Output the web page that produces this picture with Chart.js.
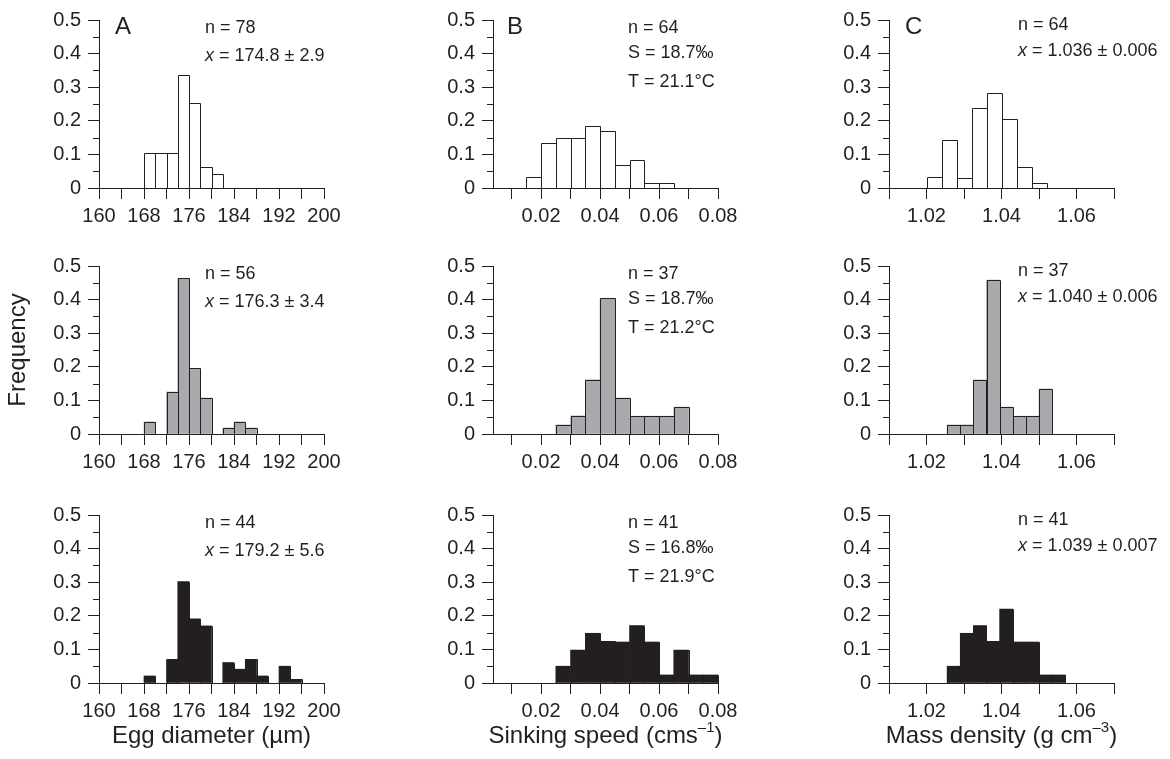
<!DOCTYPE html>
<html lang="en">
<head>
<meta charset="UTF-8">
<title>Egg diameter, sinking speed and mass density</title>
<script src="https://cdn.jsdelivr.net/npm/chart.js"></script>
<style>
  body { margin: 0; background: #fff; }
  #wrap { position: relative; width: 1170px; height: 759px; overflow: hidden; }
  #wrap canvas { position: absolute; }
</style>
</head>
<body>
<div id="wrap"></div>
<script>
// histogram bins: lower edge of each bar and its frequency
const diamBins1 = [168, 170, 172, 174, 176, 178, 180];
const diamFreq1 = [0.103, 0.103, 0.103, 0.336, 0.252, 0.063, 0.041];
const diamBins2 = [168, 172, 174, 176, 178, 182, 184, 186];
const diamFreq2 = [0.036, 0.125, 0.463, 0.195, 0.107, 0.018, 0.036, 0.018];
const diamBins3 = [168, 172, 174, 176, 178, 182, 184, 186, 188, 192, 194];
const diamFreq3 = [0.021, 0.070, 0.302, 0.191, 0.170, 0.061, 0.041, 0.070, 0.021, 0.050, 0.011];

const sinkBins1 = [0.015, 0.02, 0.025, 0.03, 0.035, 0.04, 0.045, 0.05, 0.055, 0.06];
const sinkFreq1 = [0.034, 0.134, 0.150, 0.150, 0.185, 0.169, 0.067, 0.084, 0.016, 0.016];
const sinkBins2 = [0.025, 0.03, 0.035, 0.04, 0.045, 0.05, 0.055, 0.06, 0.065];
const sinkFreq2 = [0.027, 0.054, 0.161, 0.404, 0.107, 0.053, 0.053, 0.053, 0.080];
const sinkBins3 = [0.025, 0.03, 0.035, 0.04, 0.045, 0.05, 0.055, 0.06, 0.065, 0.07, 0.075];
const sinkFreq3 = [0.050, 0.098, 0.148, 0.124, 0.122, 0.171, 0.122, 0.024, 0.098, 0.024, 0.024];

const densBins1 = [1.020, 1.024, 1.028, 1.032, 1.036, 1.040, 1.044, 1.048];
const densFreq1 = [0.032, 0.142, 0.031, 0.237, 0.284, 0.204, 0.063, 0.015];
const densBins2 = [1.0255, 1.029, 1.0325, 1.036, 1.0395, 1.043, 1.0465, 1.05];
const densFreq2 = [0.027, 0.027, 0.161, 0.458, 0.080, 0.053, 0.053, 0.134];
const densBins3 = [1.0255, 1.029, 1.0325, 1.036, 1.0395, 1.043, 1.0465, 1.05, 1.0535];
const densFreq3 = [0.050, 0.148, 0.171, 0.124, 0.220, 0.122, 0.122, 0.024, 0.024];

// tick labels
const freqTicks = ['0', '0.1', '0.2', '0.3', '0.4', '0.5'];
const freqMinor = [0.05, 0.15, 0.25, 0.35, 0.45];
const diamTicks = ['160', '168', '176', '184', '192', '200'];
const sinkTicks = ['0.02', '0.04', '0.06', '0.08'];
const densTicks = ['1.02', '1.04', '1.06'];

// panel texts
const panelLetters = ['A', 'B', 'C'];
const notesDiam = [['n = 78', 'x = 174.8 ± 2.9'], ['n = 56', 'x = 176.3 ± 3.4'], ['n = 44', 'x = 179.2 ± 5.6']];
const notesSink = [['n = 64', 'S = 18.7‰', 'T = 21.1°C'], ['n = 37', 'S = 18.7‰', 'T = 21.2°C'], ['n = 41', 'S = 16.8‰', 'T = 21.9°C']];
const notesDens = [['n = 64', 'x = 1.036 ± 0.006'], ['n = 37', 'x = 1.040 ± 0.006'], ['n = 41', 'x = 1.039 ± 0.007']];
const axisTitles = ['Egg diameter (µm)', 'Sinking speed (cms^{–1})', 'Mass density (g cm^{–3})'];
const yTitle = 'Frequency';

const ink = '#231f20';
const fontFamily = "'Liberation Sans', Arial, Helvetica, sans-serif";
const rowFills = ['#ffffff', '#a7a9ac', '#231f20'];

// page layout of the nine plot areas
const plotW = 225, plotH = 168;
const colLeft = [99, 493, 889];
const rowTop = [20, 266, 515];

const columns = [
  { bins: [diamBins1, diamBins2, diamBins3], freq: [diamFreq1, diamFreq2, diamFreq3], bw: [2, 2, 2],
    min: 160, max: 200, step: 4, labels: diamTicks, fmt: v => String(Math.round(v)),
    notes: notesDiam, noteDx: 106, noteDy: [8, 36], letterDx: 16 },
  { bins: [sinkBins1, sinkBins2, sinkBins3], freq: [sinkFreq1, sinkFreq2, sinkFreq3], bw: [0.005, 0.005, 0.005],
    min: 0.0037, max: 0.08, step: 0.01, labels: sinkTicks, fmt: v => v.toFixed(2),
    notes: notesSink, noteDx: 135, noteDy: [8, 33, 62], letterDx: 14 },
  { bins: [densBins1, densBins2, densBins3], freq: [densFreq1, densFreq2, densFreq3], bw: [0.004, 0.0035, 0.0035],
    min: 1.01, max: 1.07, step: 0.01, labels: densTicks, fmt: v => v.toFixed(2),
    notes: notesDens, noteDx: 129, noteDy: [5, 31], letterDx: 16 }
];

function splitParts(line) {
  const parts = [];
  if (line.startsWith('x ')) {
    parts.push({ t: 'x', it: true });
    line = line.slice(1);
  }
  const m = line.match(/^(.*)\^\{(.*)\}(.*)$/);
  if (m) parts.push({ t: m[1] }, { t: m[2], sup: true }, { t: m[3] });
  else parts.push({ t: line });
  return parts;
}

function drawLine(ctx, line, x, y, size, align) {
  const parts = splitParts(line);
  const fontOf = p => (p.it ? 'italic ' : '') + (p.sup ? Math.round(size * 0.62) : size) + 'px ' + fontFamily;
  let total = 0;
  parts.forEach(p => { ctx.font = fontOf(p); p.w = ctx.measureText(p.t).width; total += p.w; });
  let cx = align === 'center' ? x - total / 2 : x;
  ctx.textAlign = 'left';
  ctx.textBaseline = 'middle';
  parts.forEach(p => {
    ctx.font = fontOf(p);
    ctx.fillText(p.t, cx, p.sup ? y - size * 0.33 : y);
    cx += p.w;
  });
}

// crisp 1px outlines on the bar elements; shared edges land on the same pixel
const barOutlines = {
  id: 'barOutlines',
  afterDatasetsDraw(chart) {
    const ctx = chart.ctx;
    const bars = chart.getDatasetMeta(0).data;
    ctx.save();
    ctx.strokeStyle = ink;
    ctx.lineWidth = 1;
    ctx.beginPath();
    bars.forEach(bar => {
      const p = bar.getProps(['x', 'y', 'base', 'width'], true);
      const l = Math.round(p.x - p.width / 2) + 0.5;
      const r = Math.round(p.x + p.width / 2) + 0.5;
      const t = Math.round(p.y) + 0.5;
      const b = Math.round(p.base) + 0.5;
      ctx.moveTo(l, b);
      ctx.lineTo(l, t);
      ctx.lineTo(r, t);
      ctx.lineTo(r, b);
    });
    ctx.stroke();
    ctx.restore();
  }
};

const minorTicks = {
  id: 'minorTicks',
  afterDraw(chart) {
    const ys = chart.scales.y, ctx = chart.ctx, x0 = chart.chartArea.left;
    ctx.save();
    ctx.strokeStyle = ink;
    ctx.lineWidth = 1;
    ctx.beginPath();
    freqMinor.forEach(v => {
      const py = Math.round(ys.getPixelForValue(v)) + 0.5;
      ctx.moveTo(x0 - 6, py);
      ctx.lineTo(x0, py);
    });
    ctx.stroke();
    ctx.restore();
  }
};

const panelText = {
  id: 'panelText',
  afterDraw(chart, args, opts) {
    const ctx = chart.ctx, area = chart.chartArea;
    ctx.save();
    ctx.fillStyle = ink;
    if (opts.letter) drawLine(ctx, opts.letter, area.left + opts.letterDx, area.top + 7, 24, 'left');
    opts.notes.forEach((line, i) => drawLine(ctx, line, area.left + opts.noteDx, area.top + opts.noteDy[i], 18, 'left'));
    if (opts.title) drawLine(ctx, opts.title, (area.left + area.right) / 2, area.bottom + 53, 24, 'center');
    if (opts.yTitle) {
      ctx.translate(18, (area.top + area.bottom) / 2);
      ctx.rotate(-Math.PI / 2);
      drawLine(ctx, opts.yTitle, 0, 0, 24, 'center');
    }
    ctx.restore();
  }
};

const wrap = document.getElementById('wrap');

function makePanel(r, c) {
  const col = columns[c];
  const yw = c === 0 ? 99 : 70;
  const padR = c === 2 ? 1170 - (colLeft[2] + plotW) : 40;
  const padT = 20;
  const xh = r === 2 ? 759 - (rowTop[2] + plotH) : 50;
  const cv = document.createElement('canvas');
  cv.width = yw + plotW + padR;
  cv.height = padT + plotH + xh;
  cv.style.left = (colLeft[c] - yw) + 'px';
  cv.style.top = (rowTop[r] - padT) + 'px';
  wrap.appendChild(cv);

  const bw = col.bw[r];
  const data = col.bins[r].map((b, i) => ({ x: b + bw / 2, y: col.freq[r][i] }));

  new Chart(cv, {
    type: 'bar',
    data: {
      datasets: [{
        data: data,
        backgroundColor: rowFills[r],
        borderWidth: 0,
        barPercentage: 1,
        categoryPercentage: 1
      }]
    },
    options: {
      responsive: false,
      animation: false,
      events: [],
      layout: { padding: { left: 0, top: padT, right: padR, bottom: 0 } },
      plugins: {
        legend: { display: false },
        tooltip: { enabled: false },
        panelText: {
          letter: r === 0 ? panelLetters[c] : null,
          letterDx: col.letterDx,
          notes: col.notes[r],
          noteDx: col.noteDx,
          noteDy: col.noteDy,
          title: r === 2 ? axisTitles[c] : null,
          yTitle: (r === 1 && c === 0) ? yTitle : null
        }
      },
      scales: {
        x: {
          type: 'linear',
          min: col.min,
          max: col.max,
          offset: false,
          grid: { offset: false, drawOnChartArea: false, tickLength: 11, color: ink, lineWidth: 1 },
          border: { color: ink, width: 1 },
          ticks: {
            stepSize: col.step,
            includeBounds: false,
            autoSkip: false,
            maxRotation: 0,
            padding: 5,
            color: ink,
            font: { family: fontFamily, size: 20 },
            callback: v => { const s = col.fmt(v); return col.labels.includes(s) ? s : ''; }
          },
          afterFit: s => { s.height = xh; s.paddingLeft = 0; s.paddingRight = 0; }
        },
        y: {
          min: 0,
          max: 0.5,
          grid: { drawOnChartArea: false, tickLength: 11, color: ink, lineWidth: 1 },
          border: { color: ink, width: 1 },
          ticks: {
            stepSize: 0.1,
            padding: 7,
            color: ink,
            font: { family: fontFamily, size: 20 },
            callback: (v, i) => freqTicks[i]
          },
          afterFit: s => { s.width = yw; s.paddingTop = 0; s.paddingBottom = 0; }
        }
      }
    },
    plugins: [barOutlines, minorTicks, panelText]
  });
}

for (let r = 0; r < 3; r++) {
  for (let c = 0; c < 3; c++) makePanel(r, c);
}
</script>
</body>
</html>
